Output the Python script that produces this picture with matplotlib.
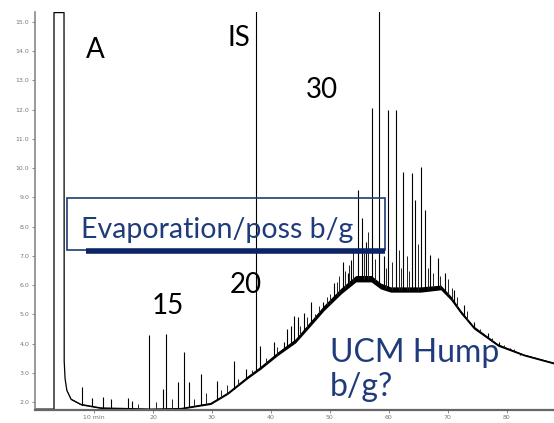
import numpy as np
import matplotlib.pyplot as plt
from matplotlib.patches import Rectangle
from matplotlib.lines import Line2D

# baseline / UCM envelope of the chromatogram (retention time in min, response)
base_t = [0.0, 3.22, 3.22, 4.92, 4.95, 5.1, 5.4, 6.1, 7.8, 11.2, 19.7, 24.8, 29.8,
          32.7, 36.1, 38.3, 41.2, 44.2, 47.0, 49.0, 51.9, 54.4, 57.0, 58.6, 60.3,
          65.4, 68.8, 70.5, 72.2, 74.4, 78.5, 82.9, 88.0]
base_v = [1.76, 1.76, 15.32, 15.32, 3.4, 2.8, 2.4, 2.1, 1.92, 1.80, 1.76, 1.78, 1.95,
          2.30, 2.85, 3.18, 3.66, 4.10, 4.75, 5.22, 5.80, 6.22, 6.22, 5.97, 5.85,
          5.85, 5.92, 5.56, 5.08, 4.55, 3.95, 3.61, 3.33]
noise = [0, 0, 0, 0, 0, 0, 0.01, 0.02, 0.02, 0.02, 0.02, 0.02, 0.03,
         0.03, 0.04, 0.05, 0.06, 0.07, 0.08, 0.09, 0.10, 0.11, 0.11, 0.10, 0.09,
         0.09, 0.08, 0.07, 0.06, 0.05, 0.04, 0.03, 0.03]

# resolved peaks: apex time and apex response
peak_t = [8.02, 9.71, 11.61, 12.88, 15.71, 16.39, 19.32, 21.69, 22.25, 24.24, 25.20,
          26.15, 28.14, 30.85, 33.68, 35.76, 37.54, 38.19, 40.46, 42.15, 42.71, 43.39,
          43.95, 44.58, 45.64, 46.78, 48.76, 50.63, 52.15, 53.0, 53.56, 54.69, 55.37,
          56.10, 57.07, 58.39, 59.15, 59.88, 61.19, 62.42, 63.90, 64.46, 65.42, 66.10,
          67.0, 68.25, 69.49, 71.07, 72.66, 74.46, 76.73, 78.69, 80.5, 82.3]
peak_h = [2.50, 2.14, 2.18, 2.10, 2.14, 2.04, 4.28, 2.45, 4.34, 2.69, 3.70,
          2.68, 2.95, 2.73, 3.40, 3.13, 17.0, 3.91, 4.04, 4.06, 4.50, 4.60,
          4.94, 4.90, 5.03, 5.43, 5.43, 6.06, 6.80, 6.40, 6.86, 9.25, 8.28,
          7.48, 12.05, 17.0, 7.0, 11.99, 11.99, 9.88, 9.82, 8.9, 10.05, 8.57,
          7.03, 6.92, 6.41, 5.83, 5.32, 4.75, 4.35, 4.06, 3.85, 3.62]

# small unresolved spikes riding on the hump
minor_t = [17.5, 20.5, 23.2, 27.0, 29.0, 31.5, 32.5, 34.5, 36.8, 39.2, 41.0,
           45.0, 46.2, 47.5, 48.2, 49.5, 50.1, 51.2, 51.6, 52.6, 53.3, 54.0, 55.8,
           56.5, 57.6, 59.5, 60.6, 61.7, 62.0, 63.0, 63.4, 64.9, 66.6, 67.5, 68.7,
           70.0, 70.7, 71.6, 73.3, 75.4, 77.5, 79.6, 81.2, 84.0, 86.0]
minor_h = [1.95, 2.00, 2.10, 2.10, 2.30, 2.40, 2.60, 2.80, 3.10, 3.50, 3.90,
           4.60, 4.90, 5.00, 5.30, 5.60, 5.70, 6.10, 6.30, 6.50, 6.70, 7.20, 7.10,
           7.80, 6.90, 6.60, 6.80, 7.20, 6.60, 7.00, 6.50, 7.40, 6.60, 6.40, 6.30,
           6.20, 5.90, 5.60, 5.10, 4.50, 4.20, 3.95, 3.80, 3.55, 3.45]

x_ticks = [10, 20, 30, 40, 50, 60, 70, 80]
x_labels = ['10 min', '20', '30', '40', '50', '60', '70', '80']
y_ticks = list(range(2, 16))

W, H = 554, 423
navy = '#1f3b7a'


def fp(x, y):
    # pixel position -> figure fraction
    return x / W, 1 - y / H


fig = plt.figure(figsize=(W / 100, H / 100), dpi=100)
ax = fig.add_axes([35 / W, 13 / H, 519 / W, 398 / H])

bt = np.array(base_t)
bv = np.array(base_v)
nz = np.array(noise)
ax.fill_between(bt, bv - nz, bv + nz, color='black', lw=0)
ax.plot(bt, bv, color='black', lw=0.9)
feet = np.interp(peak_t, base_t[3:], base_v[3:])
ax.vlines(peak_t, feet, peak_h, color='black', lw=0.8)
mfeet = np.interp(minor_t, base_t[3:], base_v[3:])
ax.vlines(minor_t, mfeet, minor_h, color='#222222', lw=0.7)

ax.set_xlim(0, 88)
ax.set_ylim(1.73, 15.34)
ax.set_xticks(x_ticks)
ax.set_xticklabels(x_labels)
ax.set_yticks(y_ticks)
ax.set_yticklabels([f'{v:.1f}' for v in y_ticks])
ax.tick_params(axis='both', labelsize=4.5, colors='#777777', length=2, width=0.6, pad=2)
ax.tick_params(axis='x', pad=1.5)
for s in ['top', 'right']:
    ax.spines[s].set_visible(False)
ax.spines['left'].set_color('#888888')
ax.spines['left'].set_linewidth(1.2)
ax.spines['bottom'].set_color('#666666')
ax.spines['bottom'].set_linewidth(1.6)

font = 'Lato'
for s, (x, y) in [('A', (95, 50)), ('IS', (239, 38)), ('30', (322, 90)),
                  ('15', (168, 306)), ('20', (246, 285))]:
    fig.text(*fp(x, y), s, fontsize=20, family=font, color='black',
             ha='center', va='center')

# evaporation box
x0, y0 = fp(67, 250)
x1, y1 = fp(385, 198)
fig.patches.append(Rectangle((x0, y0), x1 - x0, y1 - y0, transform=fig.transFigure,
                             fill=False, edgecolor=navy, lw=1.2))
bx0, by = fp(86, 251)
bx1, _ = fp(385, 251)
fig.add_artist(Line2D([bx0, bx1], [by, by], transform=fig.transFigure,
                      color='#0b2466', lw=4, solid_capstyle='butt'))
fig.text(*fp(81, 238), 'Evaporation/poss b/g', fontsize=20.5, family=font,
         color=navy, ha='left', va='baseline')

fig.text(*fp(330, 362), 'UCM Hump', fontsize=23, family=font, color=navy,
         ha='left', va='baseline')
fig.text(*fp(330, 396), 'b/g?', fontsize=23, family=font, color=navy,
         ha='left', va='baseline')

fig.savefig('out.png', dpi=100)
